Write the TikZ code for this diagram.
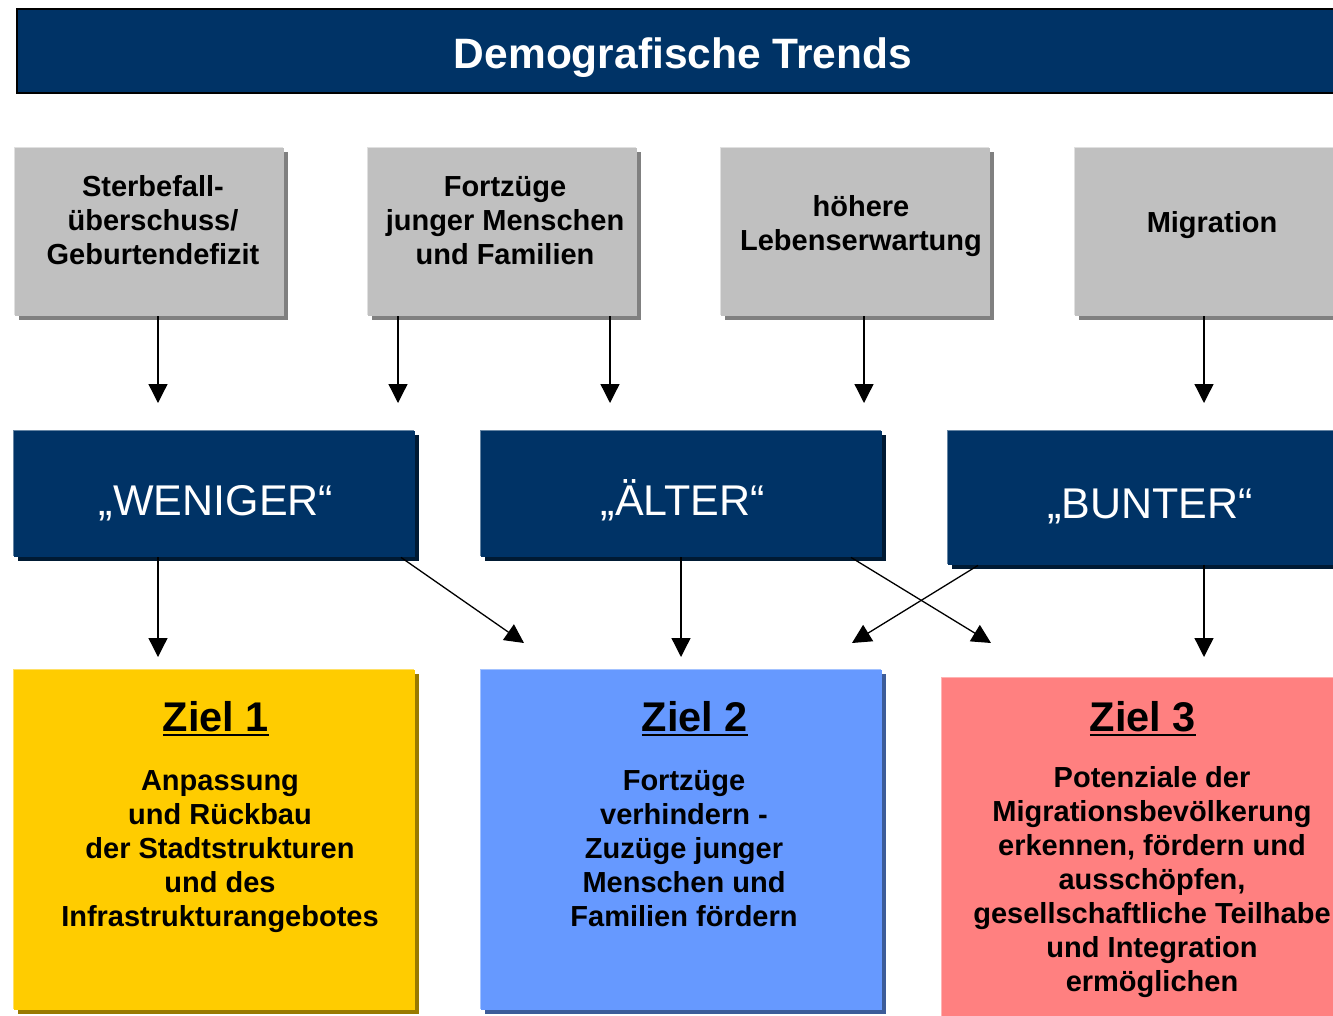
\documentclass[tikz,border=0pt]{standalone}
\usepackage{fontspec}
\setmainfont{Liberation Sans}
\usetikzlibrary{arrows.meta,shadows}
\definecolor{navy}{RGB}{0,51,102}
\definecolor{navyshadow}{RGB}{0,26,51}
\definecolor{navylight}{RGB}{102,133,163}
\definecolor{boxgray}{RGB}{192,192,192}
\definecolor{grayshadow}{RGB}{128,128,128}
\definecolor{graylight}{RGB}{224,224,224}
\definecolor{zyellow}{RGB}{255,204,0}
\definecolor{zyellowshadow}{RGB}{153,122,0}
\definecolor{zyellowlight}{RGB}{255,224,102}
\definecolor{zblue}{RGB}{102,153,255}
\definecolor{zblueshadow}{RGB}{61,92,153}
\definecolor{zbluelight}{RGB}{163,194,255}
\definecolor{zred}{RGB}{255,128,128}
\definecolor{zredshadow}{RGB}{153,77,77}
\definecolor{zredlight}{RGB}{255,179,179}
\newcommand\zul[1]{\setbox0\hbox{#1}\rlap{\rule[-5pt]{\wd0}{2.5pt}}\box0}
\newcommand\fs{\rule{0pt}{21pt}}
\tikzset{
  panel/.style n args={3}{rectangle, inner sep=0pt, anchor=north west, fill=#1,
    general shadow={fill=#2, shadow xshift=3.5pt, shadow yshift=-3.5pt},
    general shadow={fill=#3, shadow xshift=-1.5pt, shadow yshift=1.5pt}},
  graybox/.style={panel={boxgray}{grayshadow}{graylight}, minimum width=269pt, minimum height=168pt},
  navybox/.style={panel={navy}{navyshadow}{navylight}, minimum width=401pt, minimum height=126pt},
  zielbox/.style={minimum width=401pt, minimum height=340pt},
  graytext/.style={inner sep=0pt, align=center, font=\fontsize{29}{34}\selectfont\bfseries},
  navytext/.style={inner sep=0pt, anchor=base, text=white, font=\fontsize{43}{50}\selectfont},
  zieltitle/.style={inner sep=0pt, anchor=base, font=\fontsize{41.5}{48}\selectfont\bfseries},
  zieltext/.style={inner sep=0pt, anchor=north, align=center, font=\fontsize{29}{34}\selectfont\bfseries},
  arr/.style={line width=1.3pt, -{Triangle[length=19pt,width=19pt]}},
}
\begin{document}
\begin{tikzpicture}[x=1pt,y=-1pt]
\useasboundingbox (0,0) rectangle (1333,1015);
\clip (0,0) rectangle (1333,1015);
% title bar
\node[rectangle, inner sep=0pt, anchor=north west, fill=navy, draw=black, line width=1.5pt,
  general shadow={fill=grayshadow, shadow xshift=1.5pt, shadow yshift=-1.5pt},
  minimum width=1340pt, minimum height=84pt] (title) at (16,8) {};
\node[inner sep=0pt, anchor=base, text=white, font=\fontsize{42.5}{50}\selectfont\bfseries] (titletext) at (683,68) {Demografische Trends};
% gray boxes
\node[graybox] (g1) at (15,148) {};
\node[graybox] (g2) at (368,148) {};
\node[graybox] (g3) at (721,148) {};
\node[graybox, minimum width=300pt] (g4) at (1075,148) {};
\node[graytext, anchor=north] (g1t) at (153,175.5) {\fs Sterbefall-\\überschuss/\\Geburtendefizit};
\node[graytext, anchor=north] (g2t) at (505,175.5) {\fs Fortzüge\\junger Menschen\\und Familien};
\node[graytext, anchor=north] (g3t) at (861,195.5) {\fs höhere\\Lebenserwartung};
\node[graytext, anchor=base] (g4t) at (1212,232.5) {Migration};
% navy boxes
\node[navybox] (w1) at (14,431) {};
\node[navybox] (w2) at (481,431) {};
\node[navybox, minimum height=134pt] (w3) at (948,431) {};
\node[navytext] (w1t) at (216,515) {„WENIGER“};
\node[navytext] (w2t) at (683,515) {„ÄLTER“};
\node[navytext] (w3t) at (1150,518) {„BUNTER“};
% goal boxes
\node[panel={zyellow}{zyellowshadow}{zyellowlight}, zielbox] (z1) at (14,670) {};
\node[panel={zblue}{zblueshadow}{zbluelight}, zielbox] (z2) at (481,670) {};
\node[panel={zred}{zredshadow}{zredlight}, zielbox, minimum height=340pt, minimum width=400pt] (z3) at (942,678) {};
\node[zieltitle] (z1h) at (216,731) {\zul{Ziel 1}};
\node[zieltitle] (z2h) at (695,731) {\zul{Ziel 2}};
\node[zieltitle] (z3h) at (1143,731) {\zul{Ziel 3}};
\node[zieltext] (z1t) at (220,769.5) {\fs Anpassung\\und Rückbau\\der Stadtstrukturen\\und des\\Infrastrukturangebotes};
\node[zieltext] (z2t) at (684,769.5) {\fs Fortzüge\\verhindern -\\Zuzüge junger\\Menschen und\\Familien fördern};
\node[zieltext] (z3t) at (1152,766) {\fs Potenziale der\\Migrationsbevölkerung\\erkennen, fördern und\\ausschöpfen,\\gesellschaftliche Teilhabe\\und Integration\\ermöglichen};
% arrow end points
\coordinate (e1) at (158,403);
\coordinate (e2) at (398,403);
\coordinate (e3) at (610,403);
\coordinate (e4) at (864,403);
\coordinate (e5) at (1204,403);
\coordinate (f1) at (158,657);
\coordinate (f2) at (524,643);
\coordinate (f3) at (681,657);
\coordinate (f4) at (991,643);
\coordinate (f5) at (852,643);
\coordinate (f6) at (1204,657);
% arrows top row
\draw[arr] (g1.south -| e1) -- (e1);
\draw[arr] (g2.south -| e2) -- (e2);
\draw[arr] (g2.south -| e3) -- (e3);
\draw[arr] (g3.south -| e4) -- (e4);
\draw[arr] (g4.south -| e5) -- (e5);
% arrows bottom row
\draw[arr] (w1.south -| 401,0) -- (f2);
\draw[arr] (w1.south -| f1) -- (f1);
\draw[arr] (w2.south -| f3) -- (f3);
\draw[arr] (w2.south -| 851,0) -- (f4);
\draw[arr] (w3.south -| 978,0) -- (f5);
\draw[arr] (w3.south -| f6) -- (f6);
\end{tikzpicture}
\end{document}
